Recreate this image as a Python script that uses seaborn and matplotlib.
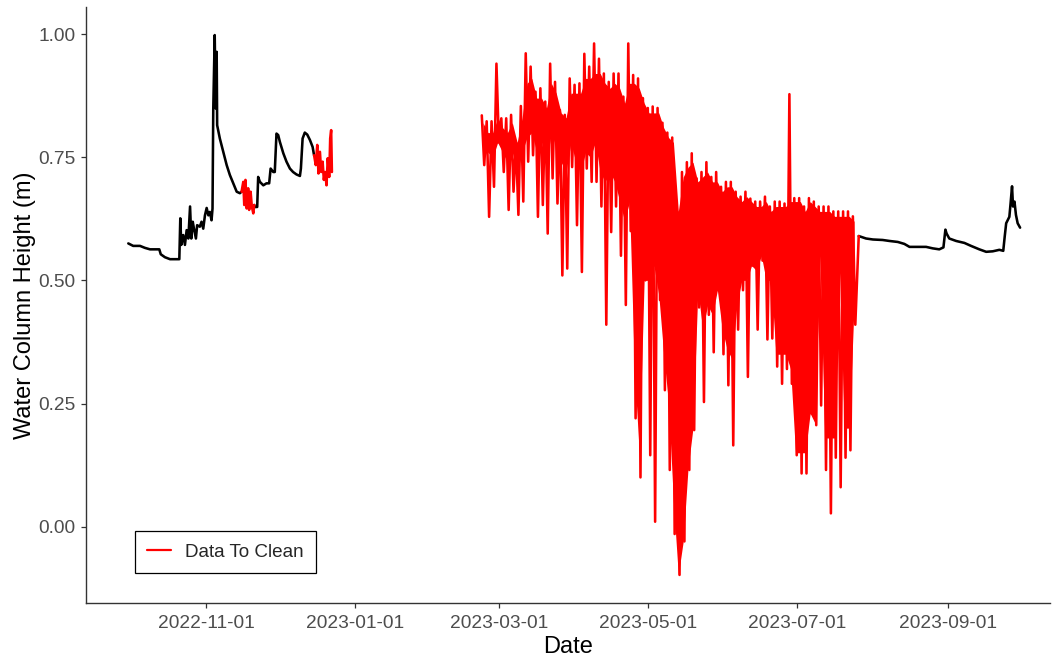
import numpy as np
import pandas as pd
import matplotlib
matplotlib.use("Agg")
import matplotlib.pyplot as plt
import matplotlib.dates as mdates
from matplotlib.ticker import FixedLocator, FuncFormatter
import seaborn as sns

# Reference date for the day offsets below
ORIGIN = pd.Timestamp("2022-11-01")

# ---- Clean logger record (days after 2022-11-01, water column height in m) ----
black_a_days = [-31.8, -29.8, -27.0, -25.0, -22.9, -19.1, -18.5, -16.8, -14.7, -12.7,
                -10.9, -10.5, -10.1, -9.3, -8.6, -7.9, -7.2, -6.5, -6.0, -5.4,
                -4.9, -4.1, -3.6, -2.5, -1.8, -1.1, -0.4, 0.3, 1.0, 1.6,
                2.3, 2.7, 3.0, 3.6, 4.0, 4.4, 4.6, 5.7, 7.1, 8.5,
                9.8, 11.2, 12.6, 13.9, 14.6]
black_a_height = [0.575, 0.570, 0.570, 0.566, 0.563, 0.563, 0.553, 0.547, 0.543, 0.543,
                  0.543, 0.626, 0.572, 0.592, 0.572, 0.602, 0.585, 0.650, 0.585, 0.619,
                  0.605, 0.585, 0.612, 0.609, 0.619, 0.605, 0.632, 0.647, 0.632, 0.639,
                  0.622, 0.646, 0.846, 0.998, 0.849, 0.964, 0.815, 0.788, 0.761, 0.734,
                  0.714, 0.697, 0.680, 0.677, 0.680]

black_b_days = [19.8, 20.1, 21.0, 21.4, 22.1, 23.5, 24.8, 25.9, 26.5, 27.6,
                28.2, 28.9, 29.6, 30.3, 31.7, 33.0, 34.4, 35.7, 37.1, 38.5,
                38.9, 39.6, 40.5, 41.5, 42.6, 43.7, 44.3]
black_b_height = [0.653, 0.649, 0.649, 0.710, 0.700, 0.693, 0.697, 0.697, 0.727, 0.720,
                  0.720, 0.798, 0.795, 0.781, 0.758, 0.741, 0.727, 0.720, 0.715, 0.712,
                  0.727, 0.788, 0.800, 0.796, 0.785, 0.771, 0.754]

black_c_days = [267.4, 270.4, 273.2, 277.2, 280.0, 283.4, 286.1, 288.2, 290.9, 295.0,
                297.7, 300.4, 302.1, 302.9, 303.4, 304.5, 307.3, 310.7, 313.4, 316.8,
                319.6, 322.3, 325.0, 326.6, 327.2, 327.8, 328.4, 329.1, 329.6, 330.2,
                330.6, 331.2, 331.8, 332.5, 333.5]
black_c_height = [0.590, 0.585, 0.583, 0.582, 0.580, 0.578, 0.574, 0.568, 0.568, 0.568,
                  0.565, 0.563, 0.567, 0.603, 0.595, 0.585, 0.580, 0.576, 0.570, 0.563,
                  0.558, 0.559, 0.562, 0.560, 0.589, 0.616, 0.622, 0.629, 0.656, 0.691,
                  0.650, 0.660, 0.633, 0.616, 0.607]

# ---- Flagged records ("Data To Clean") ----
red_a_days = [14.6, 15.3, 15.7, 16.2, 16.7, 17.3, 17.7, 18.3, 18.8, 19.4, 19.8]
red_a_height = [0.680, 0.700, 0.653, 0.704, 0.646, 0.687, 0.643, 0.680, 0.650, 0.636, 0.653]

red_b_days = [44.3, 45.0, 45.6, 46.1, 46.7, 47.2, 47.8, 48.3, 48.8, 49.4,
              49.9, 50.5, 50.9, 51.3, 51.6]
red_b_height = [0.754, 0.734, 0.775, 0.717, 0.761, 0.720, 0.741, 0.704, 0.720, 0.693,
                0.748, 0.710, 0.788, 0.805, 0.720]

# Spring/summer flagged period in 2-day windows from 2023-02-22:
# window maximum and minimum, plus the upper and lower edges of the dense oscillation
red_c_start = "2023-02-22"
red_c_high = [0.835, 0.823, 0.823, 0.940, 0.829, 0.829, 0.836, 0.780, 0.854, 0.961,
              0.934, 0.883, 0.890, 0.863, 0.940, 0.903, 0.846, 0.836, 0.910, 0.897,
              0.900, 0.960, 0.934, 0.981, 0.950, 0.920, 0.903, 0.920, 0.920, 0.873,
              0.981, 0.917, 0.910, 0.870, 0.850, 0.853, 0.850, 0.820, 0.800, 0.790,
              0.640, 0.720, 0.740, 0.758, 0.707, 0.720, 0.740, 0.710, 0.720, 0.690,
              0.700, 0.700, 0.680, 0.670, 0.680, 0.666, 0.660, 0.660, 0.670, 0.650,
              0.660, 0.660, 0.656, 0.878, 0.667, 0.667, 0.650, 0.667, 0.660, 0.650,
              0.650, 0.650, 0.640, 0.640, 0.640, 0.640, 0.630]
red_c_low = [0.734, 0.629, 0.690, 0.780, 0.720, 0.643, 0.680, 0.633, 0.660, 0.741,
             0.754, 0.629, 0.653, 0.595, 0.707, 0.656, 0.510, 0.524, 0.730, 0.612,
             0.517, 0.727, 0.700, 0.700, 0.650, 0.410, 0.598, 0.650, 0.550, 0.450,
             0.600, 0.220, 0.100, 0.500, 0.145, 0.010, 0.460, 0.277, 0.115, -0.015,
             -0.098, -0.030, 0.115, 0.196, 0.445, 0.253, 0.430, 0.354, 0.480, 0.350,
             0.287, 0.165, 0.400, 0.480, 0.304, 0.530, 0.400, 0.540, 0.380, 0.382,
             0.325, 0.290, 0.320, 0.290, 0.145, 0.108, 0.108, 0.230, 0.206, 0.246,
             0.115, 0.027, 0.140, 0.080, 0.140, 0.155, 0.410]
red_c_core_top = [0.82, 0.80, 0.80, 0.83, 0.81, 0.80, 0.82, 0.78, 0.83,
                  0.90, 0.91, 0.87, 0.87, 0.85, 0.90, 0.88,
                  0.84, 0.83, 0.88, 0.88, 0.88, 0.91, 0.91, 0.92, 0.92,
                  0.90, 0.89, 0.90, 0.89, 0.86, 0.90,
                  0.90, 0.89, 0.86, 0.84, 0.84, 0.84, 0.81, 0.79, 0.78, 0.64,
                  0.71, 0.73, 0.74, 0.70, 0.71, 0.72, 0.70, 0.70, 0.68, 0.69,
                  0.69, 0.67, 0.66, 0.67, 0.66, 0.65, 0.65, 0.66, 0.64, 0.65,
                  0.65, 0.65, 0.66, 0.66, 0.66, 0.64, 0.66, 0.65, 0.64, 0.64,
                  0.64, 0.63, 0.63, 0.63, 0.63, 0.62]
red_c_core = [0.77, 0.76, 0.75, 0.78, 0.76, 0.74, 0.76, 0.72, 0.76,
              0.79, 0.80, 0.76, 0.78, 0.74, 0.80, 0.77,
              0.74, 0.72, 0.78, 0.74, 0.72, 0.76, 0.75, 0.78, 0.72,
              0.70, 0.72, 0.70, 0.66, 0.62, 0.66,
              0.32, 0.15, 0.50, 0.50, 0.53, 0.47, 0.35, 0.25, 0.05, -0.098,
              -0.03, 0.12, 0.20, 0.48, 0.40, 0.45, 0.43, 0.48, 0.40, 0.36,
              0.34, 0.45, 0.50, 0.50, 0.53, 0.52, 0.55, 0.50, 0.50, 0.35,
              0.35, 0.35, 0.32, 0.15, 0.15, 0.15, 0.23, 0.21, 0.55, 0.18,
              0.18, 0.18, 0.52, 0.20, 0.20, 0.45]

x_ticks = ["2022-11-01", "2023-01-01", "2023-03-01", "2023-05-01", "2023-07-01", "2023-09-01"]
y_ticks = [0.00, 0.25, 0.50, 0.75, 1.00]

RED = "#FF0000"
LW = 1.85


def segment(days, heights, name):
    return pd.DataFrame({
        "Date": ORIGIN + pd.to_timedelta(np.asarray(days), unit="D"),
        "Height": heights,
        "segment": name,
    })


# Clean series, one trace per continuous stretch
clean = pd.concat([
    segment(black_a_days, black_a_height, "a"),
    segment(black_b_days, black_b_height, "b"),
    segment(black_c_days, black_c_height, "c"),
], ignore_index=True)

# Flagged spring/summer trace: window maximum then window minimum
start = pd.Timestamp(red_c_start)
c_times, c_vals = [], []
for k, (hi, lo) in enumerate(zip(red_c_high, red_c_low)):
    c_times += [start + pd.Timedelta(days=2 * k), start + pd.Timedelta(days=2 * k + 1)]
    c_vals += [hi, lo]
c_times.append(ORIGIN + pd.Timedelta(days=black_c_days[0]))
c_vals.append(black_c_height[0])
red_c = pd.DataFrame({"Date": c_times, "Height": c_vals, "segment": "c"})

flagged = pd.concat([
    segment(red_a_days, red_a_height, "a"),
    segment(red_b_days, red_b_height, "b"),
    red_c,
], ignore_index=True)
flagged["flag"] = "Data To Clean"

# Dense part of the oscillation, shaded between its lower and upper edges
win_mid = [start + pd.Timedelta(days=2 * k + 0.5) for k in range(len(red_c_high))]
dense = pd.DataFrame({
    "Date": win_mid + win_mid,
    "Height": list(red_c_core_top) + list(red_c_core),
})

# ---- Figure ----
sns.set_style("ticks")
plt.rcParams["font.family"] = ["Liberation Sans", "DejaVu Sans"]

fig = plt.figure(figsize=(10.52, 6.63), dpi=100)
ax = fig.add_axes([86 / 1052, 60 / 663, 964 / 1052, 596 / 663])

sns.lineplot(data=clean, x="Date", y="Height", units="segment", estimator=None,
             sort=False, color="black", linewidth=LW, ax=ax, legend=False)
sns.lineplot(data=dense, x="Date", y="Height", estimator="max", errorbar=("pi", 100),
             color=RED, linewidth=0, err_kws={"alpha": 1, "linewidth": 0},
             ax=ax, legend=False)
sns.lineplot(data=flagged, x="Date", y="Height", hue="flag", units="segment",
             estimator=None, sort=False, palette={"Data To Clean": RED},
             linewidth=LW, ax=ax)

ax.set_xlim(pd.Timestamp("2022-09-12 21:00"), pd.Timestamp("2023-10-12 18:00"))
ax.set_ylim(-0.155, 1.055)

ax.xaxis.set_major_locator(FixedLocator(mdates.date2num(pd.to_datetime(x_ticks))))
ax.xaxis.set_major_formatter(mdates.DateFormatter("%Y-%m-%d"))
ax.yaxis.set_major_locator(FixedLocator(y_ticks))
ax.yaxis.set_major_formatter(FuncFormatter(lambda v, _: f"{v:.2f}"))

for side in ("top", "right"):
    ax.spines[side].set_visible(False)
for side in ("left", "bottom"):
    ax.spines[side].set_color("#333333")
    ax.spines[side].set_linewidth(1.0)

ax.tick_params(axis="both", colors="#333333", length=3.8, width=0.9,
               labelsize=13.8, labelcolor="#4D4D4D")
ax.tick_params(axis="x", pad=5)
ax.tick_params(axis="y", pad=3.5)

ax.set_xlabel("Date", fontsize=17, color="black", labelpad=3)
ax.set_ylabel("Water Column Height (m)", fontsize=17, color="black", labelpad=2)

leg = ax.legend(title=None, loc="lower left", bbox_to_anchor=(0.0508, 0.0503),
                borderaxespad=0, fontsize=13.6, frameon=True, fancybox=False,
                framealpha=1, edgecolor="black", handlelength=1.25,
                handletextpad=0.75, borderpad=0.65)
leg.get_frame().set_linewidth(0.9)
for line in leg.get_lines():
    line.set_linewidth(1.6)

fig.savefig("out.png", dpi=100)
